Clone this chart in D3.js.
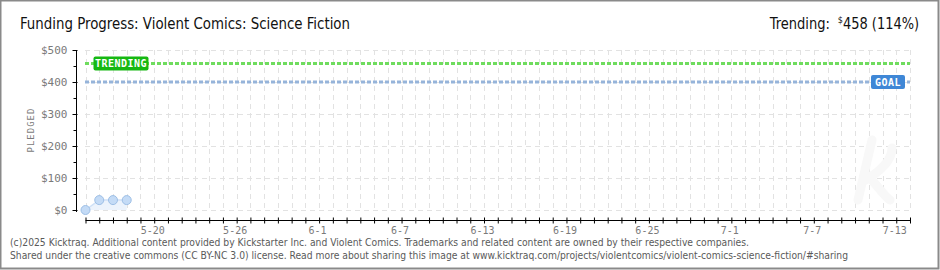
<!DOCTYPE html>
<head>
  <title>Funding Progress: Violent Comics: Science Fiction</title>
  <script src="https://d3js.org/d3.v7.min.js"></script>
  <style>
    body { margin: 0; background: #fff; }
    .grid line { stroke: #e2e2e2; stroke-dasharray: 5,4; }
    .axis path, .axis line { stroke: #000; }
    .axis text { font-family: "DejaVu Sans Mono", monospace; fill: #7a7a7a; }
    .foot { font-family: "DejaVu Sans Condensed", "DejaVu Sans", sans-serif; font-size: 10px; fill: #5a5a5a; }
    .head { font-family: "DejaVu Sans Condensed", "DejaVu Sans", sans-serif; font-size: 16px; fill: #111; }
  </style>
</head>
<body>
  <svg width="940" height="270"></svg>
  <script>
    // chart values
    const days     = ["2025-05-15", "2025-05-16", "2025-05-17", "2025-05-18"];
    const pledged  = [0, 31, 31, 31];
    const goal     = 400;
    const trending = 458;
    const trendPct = 114;
    const yTicks   = [0, 100, 200, 300, 400, 500];
    const xLabels  = ["5-20", "5-26", "6-1", "6-7", "6-13", "6-19", "6-25", "7-1", "7-7", "7-13"];
    const startDay = "2025-05-15", endDay = "2025-07-14";

    const parse = d3.utcParse("%Y-%m-%d");
    const data = days.map((d, i) => ({date: parse(d), value: pledged[i]}));

    const svg = d3.select("svg");
    const x = d3.scaleUtc().domain([parse(startDay), parse(endDay)]).range([85.5, 910]);
    const y = d3.scaleLinear().domain([0, 500]).range([210, 50]);

    // outer frame
    svg.append("rect").attr("x", 0.5).attr("y", 0.5).attr("width", 938).attr("height", 268)
      .attr("fill", "#fff").attr("stroke", "#8a8a8a").attr("stroke-width", 2);

    // title + trending
    svg.append("text").attr("class", "head").attr("x", 20).attr("y", 29)
      .attr("textLength", 330).attr("lengthAdjust", "spacingAndGlyphs")
      .text("Funding Progress: Violent Comics: Science Fiction");
    const tr = svg.append("text").attr("class", "head").attr("x", 919).attr("y", 29).attr("text-anchor", "end");
    tr.append("tspan").attr("textLength", 60).attr("lengthAdjust", "spacingAndGlyphs").text("Trending:");
    tr.append("tspan").attr("font-size", "9px").attr("dx", 8).attr("dy", -6).text("$");
    tr.append("tspan").attr("dy", 6).attr("textLength", 76).attr("lengthAdjust", "spacingAndGlyphs")
      .text(`${trending} (${trendPct}%)`);

    const allDays = d3.utcDay.range(parse(startDay), d3.utcDay.offset(parse(endDay), 1));

    // grid
    const grid = svg.append("g").attr("class", "grid");
    grid.selectAll(".v").data(allDays).enter().append("line")
      .attr("x1", d => Math.round(x(d)) + 0.5).attr("x2", d => Math.round(x(d)) + 0.5)
      .attr("y1", 50).attr("y2", 210);
    grid.selectAll(".h").data(yTicks).enter().append("line")
      .attr("x1", 85).attr("x2", 910)
      .attr("y1", d => y(d) + 0.5).attr("y2", d => y(d) + 0.5);

    // faint watermark logo
    svg.append("path")
      .attr("d", "M858,200 L872,140 M862,182 C880,172 892,160 892,148 M868,176 C878,186 884,196 890,200")
      .attr("fill", "none").attr("stroke", "#f8f8f8").attr("stroke-width", 9).attr("stroke-linecap", "round");

    // area + line + points
    svg.append("path").datum(data)
      .attr("fill", "#ecf3fc")
      .attr("d", d3.area().x(d => x(d.date)).y0(y(0)).y1(d => y(d.value)));
    svg.append("path").datum(data)
      .attr("fill", "none").attr("stroke", "#cfe1f7").attr("stroke-width", 1.5)
      .attr("d", d3.line().x(d => x(d.date)).y(d => y(d.value)));
    svg.selectAll(".pt").data(data).enter().append("circle")
      .attr("cx", d => x(d.date)).attr("cy", d => y(d.value)).attr("r", 4.5)
      .attr("fill", "#c4dbf6").attr("stroke", "#9dbfe6").attr("stroke-width", 1);

    // trending + goal lines
    svg.append("line").attr("x1", 85).attr("x2", 910).attr("y1", y(trending)).attr("y2", y(trending))
      .attr("stroke", "#6fdc5e").attr("stroke-width", 3).attr("stroke-dasharray", "4,2");
    svg.append("line").attr("x1", 85).attr("x2", 910).attr("y1", y(goal)).attr("y2", y(goal))
      .attr("stroke", "#96b4da").attr("stroke-width", 3).attr("stroke-dasharray", "4,2");

    function badge(xl, yc, w, txt, col) {
      svg.append("rect").attr("x", xl).attr("y", yc - 7).attr("width", w).attr("height", 14)
        .attr("rx", 2).attr("fill", col);
      svg.append("text").attr("x", xl + w / 2).attr("y", yc + 4).attr("text-anchor", "middle")
        .style("font-family", "'DejaVu Sans Mono', monospace").style("font-size", "10px")
        .style("font-weight", "bold").style("letter-spacing", "0.5px")
        .attr("fill", "#fff").text(txt);
    }
    badge(x.range()[0] + 8, y(trending), 55, "TRENDING", "#16b812");
    badge(x.range()[1] - 39, y(goal), 34, "GOAL", "#3f87d6");

    // y axis
    const yAxis = svg.append("g").attr("class", "axis").attr("transform", "translate(76.5,0)")
      .call(d3.axisLeft(y).tickValues(yTicks).tickSize(4).tickPadding(5).tickFormat(d => "$" + d));
    yAxis.select(".domain").attr("d", "M0,50V212");
    yAxis.selectAll(".tick line").attr("x1", 1);
    yAxis.selectAll("text").style("font-size", "11px");
    yAxis.selectAll(".minor").data(yTicks.slice(0, -1).map(d => d + 50)).enter().append("line")
      .attr("x1", -3).attr("x2", 0).attr("y1", d => y(d) + 0.5).attr("y2", d => y(d) + 0.5)
      .attr("stroke", "#e00000");
    svg.append("text").attr("transform", "translate(34,130) rotate(-90)").attr("text-anchor", "middle")
      .style("font-family", "'DejaVu Sans Mono', monospace").style("font-size", "9px")
      .style("letter-spacing", "1px").attr("fill", "#7a7a7a").text("PLEDGED");

    // x axis
    const labelSet = new Set(xLabels);
    const fmt = d3.utcFormat("%-m-%-d");
    const xAxis = svg.append("g").attr("class", "axis").attr("transform", "translate(0,220.5)")
      .call(d3.axisBottom(x).tickValues(allDays).tickSize(3).tickPadding(3)
        .tickFormat(d => labelSet.has(fmt(d)) ? fmt(d) : ""));
    xAxis.select(".domain").attr("d", `M${x.range()[0]},0H${x.range()[1]}`);
    xAxis.selectAll(".tick line").attr("y1", -3);
    xAxis.selectAll("text").filter(function () { return this.textContent === ""; }).remove();
    xAxis.selectAll("text").style("font-size", "10px").attr("dx", -2);

    // footer
    svg.append("text").attr("class", "foot").attr("x", 10).attr("y", 246)
      .attr("textLength", 739).attr("lengthAdjust", "spacingAndGlyphs")
      .text("(c)2025 Kicktraq. Additional content provided by Kickstarter Inc. and Violent Comics. Trademarks and related content are owned by their respective companies.");
    svg.append("text").attr("class", "foot").attr("x", 10).attr("y", 259)
      .attr("textLength", 838).attr("lengthAdjust", "spacingAndGlyphs")
      .text("Shared under the creative commons (CC BY-NC 3.0) license. Read more about sharing this image at www.kicktraq.com/projects/violentcomics/violent-comics-science-fiction/#sharing");
  </script>
</body>
